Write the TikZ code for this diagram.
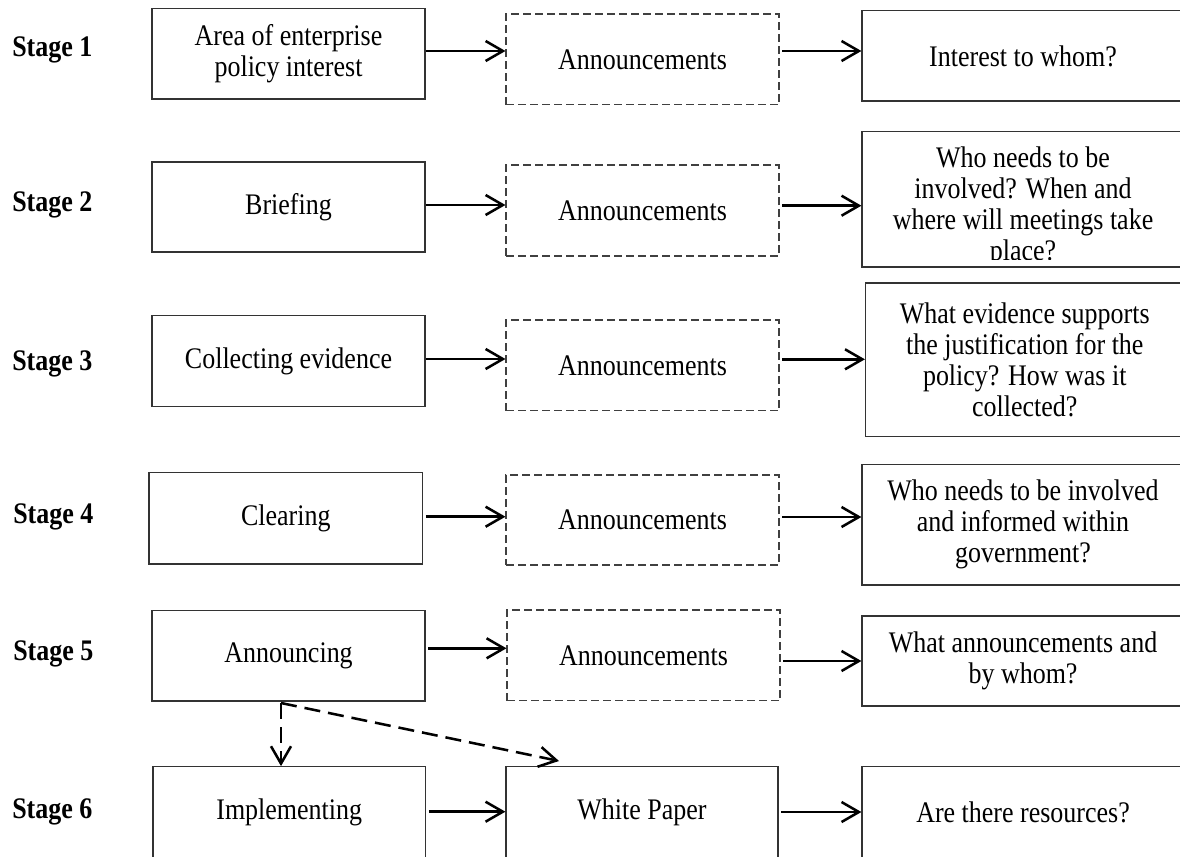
\documentclass[tikz,border=0pt]{standalone}
\usepackage{fontspec}
\setmainfont{Liberation Serif}[FakeStretch=0.87]
\usetikzlibrary{arrows.meta}
\begin{document}
\begin{tikzpicture}[x=0.75pt,y=-0.75pt,
  every node/.style={font=\fontsize{22.4}{23.25}\selectfont, inner sep=0pt},
  sz/.style 2 args={minimum width=#1*0.75pt, minimum height=#2*0.75pt},
  solidbox/.style={draw=black!80, line width=0.9pt, rectangle, align=center},
  dashbox/.style={draw=black!75, line width=0.8pt, dash pattern=on 6pt off 3pt, rectangle, align=center},
  stagelbl/.style={font=\fontsize{22.4}{23.25}\selectfont\bfseries, anchor=base west},
  flow/.style={line width=1.9pt, -{Straight Barb[length=13pt,width=15pt]}},
  dflow/.style={flow, dash pattern=on 12pt off 6pt},
]
\useasboundingbox (0,0) rectangle (1180,856);
\clip (0,0) rectangle (1180,856);

% stage labels
\node[stagelbl] (S1) at (12,56.6) {Stage 1};
\node[stagelbl] (S2) at (12,211.6) {Stage 2};
\node[stagelbl] (S3) at (12,370.3) {Stage 3};
\node[stagelbl] (S4) at (13,523.6) {Stage 4};
\node[stagelbl] (S5) at (13,660.3) {Stage 5};
\node[stagelbl] (S6) at (12,818.6) {Stage 6};

% left column
\node[solidbox, sz={273}{90.7}] (B1) at (288.5,53.7) {Area of enterprise\\policy interest};
\node[solidbox, sz={273}{90}]   (B2) at (288.5,207) {Briefing};
\node[solidbox, sz={273}{91}]   (B3) at (288.5,361.2) {Collecting evidence};
\node[solidbox, sz={273.5}{91.3}] (B4) at (285.75,518.35) {Clearing};
\node[solidbox, sz={273}{90.3}] (B5) at (288.5,655.85) {Announcing};
\node[solidbox, sz={272.5}{90.6}] (B6) at (289.25,812) {Implementing};

% middle column
\node[dashbox, sz={273}{90.7}] (D1) at (642.5,59.35) {\raisebox{-2pt}{Announcements}};
\node[dashbox, sz={273}{91}]   (D2) at (642.5,210.5) {\raisebox{-2pt}{Announcements}};
\node[dashbox, sz={273}{90.7}] (D3) at (642.5,365.35) {\raisebox{-2pt}{Announcements}};
\node[dashbox, sz={273}{90}]   (D4) at (642.5,520) {\raisebox{-2pt}{Announcements}};
\node[dashbox, sz={273}{90.7}] (D5) at (643.5,655.35) {\raisebox{-2pt}{Announcements}};
\node[solidbox, sz={272}{90.6}] (W6) at (642,812) {White Paper};

% right column
\node[solidbox, sz={322}{90.3}]  (R1) at (1023,55.85) {Interest to whom?};
\node[solidbox, sz={322}{135.3}] (R2) at (1023,199.35) {};
\begin{scope}
  \clip (R2.north west) rectangle ([yshift=6.4pt]R2.south east);
  \node[align=center] (R2txt) at (1023,207) {Who needs to be\\involved? When and\\where will meetings take\\place?};
\end{scope}
\node[solidbox, sz={318.5}{153.7}] (R3) at (1024.75,359.85) {What evidence supports\\the justification for the\\policy? How was it\\collected?};
\node[solidbox, sz={322}{120.7}] (R4) at (1023,524.65) {Who needs to be involved\\and informed within\\government?};
\node[solidbox, sz={322}{90}]    (R5) at (1023,661) {What announcements and\\by whom?};
\node[solidbox, sz={322}{90.6}]  (R6) at (1023,812) {Are there resources?};

% horizontal flows
\draw[flow] (B1.east |- 0,51) -- (D1.west |- 0,51);
\draw[flow] ([xshift=2pt]D1.east |- 0,51) -- (R1.west |- 0,51);
\draw[flow] (B2.east |- 0,205) -- (D2.west |- 0,205);
\draw[flow] ([xshift=2pt]D2.east |- 0,205.7) -- (R2.west |- 0,205.7);
\draw[flow] (B3.east |- 0,359) -- (D3.west |- 0,359);
\draw[flow] ([xshift=2pt]D3.east |- 0,359.3) -- (R3.west |- 0,359.3);
\draw[flow] ([xshift=2pt]B4.east |- 0,516.7) -- (D4.west |- 0,516.7);
\draw[flow] ([xshift=2pt]D4.east |- 0,517) -- (R4.west |- 0,517);
\draw[flow] ([xshift=2pt]B5.east |- 0,648.3) -- (D5.west |- 0,648.3);
\draw[flow] ([xshift=2pt]D5.east |- 0,661) -- (R5.west |- 0,661);
\draw[flow] ([xshift=2pt]B6.east |- 0,811.7) -- (W6.west |- 0,811.7);
\draw[flow] ([xshift=2pt]W6.east |- 0,812) -- (R6.west |- 0,812);

% dashed branches from Announcing
\coordinate (fork) at (281,703);
\coordinate (wpTip) at (559,761);
\draw[dflow] (fork) -- (fork |- B6.north);
\draw[dflow] (fork) -- (wpTip);
\end{tikzpicture}
\end{document}
